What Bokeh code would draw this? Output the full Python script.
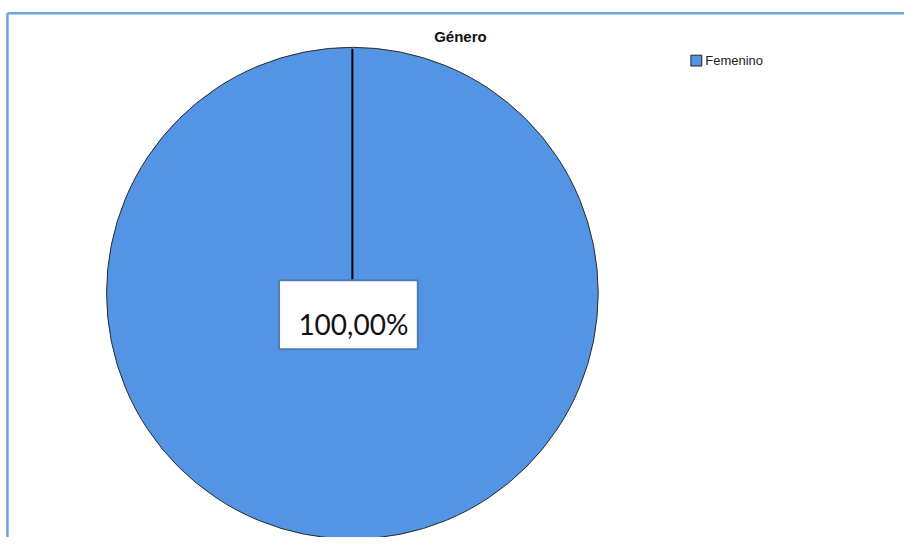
import math
from bokeh.plotting import figure
from bokeh.models import Range1d, ColumnDataSource
from bokeh.core.properties import value
from bokeh.embed import file_html
from bokeh.resources import INLINE

# ---- data ----
title_text = "Género"
categories = ["Femenino"]
percentages = [100.0]
colors = ["#5494E4"]

W, H = 904, 537
p = figure(width=W, height=H, output_backend="svg", toolbar_location=None,
           x_range=Range1d(0, 912), y_range=Range1d(545, 0),
           min_border=0, outline_line_color=None)
p.axis.visible = False
p.grid.visible = False
p.background_fill_color = "white"
p.border_fill_color = "white"

# chart frame (top and left edges)
p.segment(x0=[7, 7], y0=[13, 13], x1=[912, 7], y1=[13, 545],
          line_color="#6FA3DC", line_width=2.5)

# pie
cx, cy, r = 355, 297, 248
total = sum(percentages)
start = []
end = []
acc = 0.0
for v in percentages:
    a0 = math.pi / 2 - acc / total * 2 * math.pi
    acc += v
    a1 = math.pi / 2 - acc / total * 2 * math.pi
    start.append(a0)
    end.append(a1)

src = ColumnDataSource(dict(cat=categories, pct=percentages, color=colors,
                            start=start, end=end))
if len(percentages) == 1:
    p.circle(x=cx, y=cy, radius=r, fill_color=colors[0],
             line_color="#2a2a2a", line_width=1)
else:
    p.wedge(x=cx, y=cy, radius=r, start_angle="start", end_angle="end",
            direction="clock", fill_color="color", line_color="#2a2a2a",
            line_width=1, source=src)

# radial boundary lines (screen y is inverted)
bx = [cx + r * math.cos(a) for a in start]
by = [cy - r * math.sin(a) for a in start]
p.segment(x0=[cx] * len(bx), y0=[cy] * len(by), x1=bx, y1=by,
          line_color="black", line_width=2)

# label box
labels = [("%.2f" % v).replace(".", ",") + "%" for v in percentages]
p.quad(left=[281], right=[421], top=[284], bottom=[354], fill_color="white",
       line_color="#4C7DB4", line_width=2)
p.text(x=[356], y=[328], text=labels, text_font=value("Lato"),
       text_font_size="28px", text_align="center", text_baseline="middle",
       text_color="#111111")

# title
p.text(x=[464], y=[37], text=[title_text], text_font=value("Liberation Sans"),
       text_font_size="15px", text_font_style="bold", text_align="center",
       text_baseline="middle", text_color="#111111")

# legend
for i, (c, col) in enumerate(zip(categories, colors)):
    yy = 61 + i * 16
    p.rect(x=[702], y=[yy], width=11, height=11, fill_color=col,
           line_color="#222222", line_width=1)
    p.text(x=[711], y=[yy], text=[c], text_font=value("Liberation Sans"),
           text_font_size="13px", text_align="left", text_baseline="middle",
           text_color="#222222")

open("out.html", "w").write(file_html(p, INLINE))
